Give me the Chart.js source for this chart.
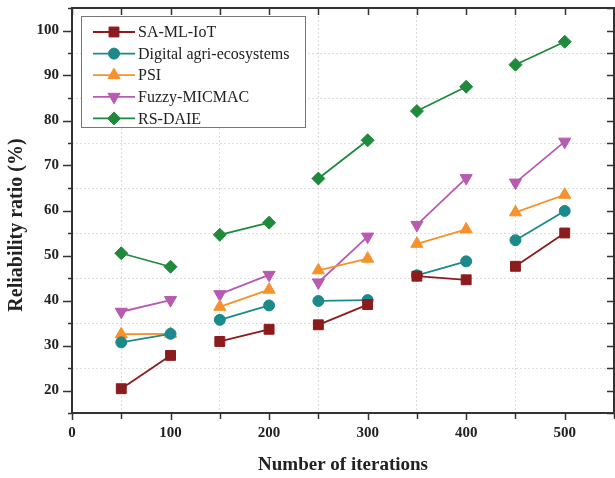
<!DOCTYPE html>
<html>
<head>
<meta charset="utf-8">
<script src="https://cdn.jsdelivr.net/npm/chart.js@4.4.0/dist/chart.umd.min.js"></script>
<style>
html, body { margin: 0; padding: 0; background: #fff; overflow: hidden; width: 615px; height: 478px; }
</style>
</head>
<body>
<canvas id="myChart" width="622" height="478"></canvas>
<script>
var iterations = [50, 100, 150, 200, 250, 300, 350, 400, 450, 500];
var saMlIot   = [20.4, 27.8, 30.9, 33.6, 34.6, 39.1, 45.4, 44.6, 47.6, 55.0];
var digitalAgri = [30.7, 32.6, 35.7, 38.9, 39.9, 40.1, 45.6, 48.7, 53.4, 59.9];
var psi       = [32.5, 32.6, 38.6, 42.4, 46.7, 49.3, 52.6, 55.8, 59.6, 63.5];
var fuzzy     = [37.5, 40.1, 41.4, 45.7, 44.0, 54.2, 56.8, 67.2, 66.2, 75.3];
var rsDaie    = [50.5, 47.5, 54.6, 57.3, 67.1, 75.6, 82.1, 87.5, 92.4, 97.5];
var xTicks = [0, 100, 200, 300, 400, 500];
var yTicks = [20, 30, 40, 50, 60, 70, 80, 90, 100];

var FONT = '"Liberation Serif", "Times New Roman", serif';
Chart.defaults.font.family = FONT;
Chart.defaults.color = '#222';

function makeSet(label, values, color, style, radius, rotation) {
    return {
        label: label,
        data: iterations.map(function (x, i) { return { x: x, y: values[i] }; }),
        borderColor: color,
        backgroundColor: color,
        pointBackgroundColor: color,
        pointBorderColor: color,
        pointBorderWidth: 1,
        borderWidth: 1.8,
        pointStyle: style,
        pointRadius: radius,
        pointRotation: rotation,
        segment: {
            // lines only join each pair of iterations
            borderColor: function (c) { return c.p0DataIndex % 2 === 1 ? 'rgba(0,0,0,0)' : color; }
        }
    };
}

var datasets = [
    makeSet('SA-ML-IoT', saMlIot, '#8b1c1e', 'rect', 7, 0),
    makeSet('Digital agri-ecosystems', digitalAgri, '#1c8a8a', 'circle', 5.5, 0),
    makeSet('PSI', psi, '#f7912b', 'triangle', 7, 0),
    makeSet('Fuzzy-MICMAC', fuzzy, '#b65ab2', 'triangle', 7, 180),
    makeSet('RS-DAIE', rsDaie, '#1f8a3b', 'rectRot', 6.5, 0)
];

var frame = {
    id: 'frame',
    afterDraw: function (chart) {
        var ctx = chart.ctx, a = chart.chartArea;
        var xs = chart.scales.x, ys = chart.scales.y;
        ctx.save();
        ctx.strokeStyle = '#333';
        ctx.lineWidth = 1.5;
        ctx.beginPath();
        var v, p;
        for (v = 0; v <= 550; v += 50) {
            p = Math.round(xs.getPixelForValue(v)) + 0.5;
            ctx.moveTo(p, a.bottom); ctx.lineTo(p, a.bottom + (v % 100 === 0 ? 7 : 6));
            ctx.moveTo(p, a.top); ctx.lineTo(p, a.top + 7);
        }
        for (v = 15; v <= 105; v += 5) {
            p = Math.round(ys.getPixelForValue(v)) + 0.5;
            ctx.moveTo(a.left, p); ctx.lineTo(a.left - (v % 10 === 0 ? 9 : 4), p);
            ctx.moveTo(a.right, p); ctx.lineTo(a.right - 7, p);
        }
        ctx.stroke();
        ctx.lineWidth = 2;
        ctx.strokeRect(a.left, a.top, a.right - a.left, a.bottom - a.top);

        // y axis title
        ctx.save();
        ctx.translate(17, 225);
        ctx.rotate(-Math.PI / 2);
        ctx.font = 'bold 20px ' + FONT;
        ctx.fillStyle = '#222';
        ctx.textAlign = 'center';
        ctx.textBaseline = 'middle';
        ctx.fillText('Reliability ratio (%)', 0, 0);
        ctx.restore();

        // legend
        ctx.fillStyle = '#fff';
        ctx.fillRect(81, 16, 224, 111);
        ctx.strokeStyle = '#777';
        ctx.lineWidth = 1;
        ctx.strokeRect(81.5, 16.5, 224, 111);
        ctx.font = '16px ' + FONT;
        ctx.textBaseline = 'middle';
        chart.data.datasets.forEach(function (ds, i) {
            var y = 32 + i * 21.6;
            ctx.strokeStyle = ds.borderColor;
            ctx.lineWidth = 1.8;
            ctx.beginPath();
            ctx.moveTo(93, y); ctx.lineTo(135, y);
            ctx.stroke();
            ctx.fillStyle = ds.backgroundColor;
            ctx.strokeStyle = ds.borderColor;
            ctx.lineWidth = 1;
            Chart.helpers.drawPoint(ctx, { pointStyle: ds.pointStyle, radius: ds.pointRadius, rotation: ds.pointRotation, borderWidth: 1 }, 114, y);
            ctx.fillStyle = '#222';
            ctx.fillText(ds.label, 138, y + 1);
        });
        ctx.restore();
    }
};

function gridColor(ctx) {
    return ctx.tick && ctx.tick.value % 10 !== 0 ? '#dcdcdc' : 'rgba(0,0,0,0)';
}

new Chart(document.getElementById('myChart'), {
    type: 'line',
    data: { datasets: datasets },
    options: {
        responsive: false,
        animation: false,
        layout: { padding: { top: 8, right: 1, left: 0, bottom: 0 } },
        plugins: { legend: { display: false }, tooltip: { enabled: false } },
        scales: {
            x: {
                type: 'linear',
                min: 0, max: 550,
                afterFit: function (s) { s.height = 65; s.paddingLeft = 0; s.paddingRight = 0; },
                grid: {
                    drawTicks: false,
                    lineWidth: 1,
                    color: function (c) { return c.tick && c.tick.value % 100 === 50 ? '#dcdcdc' : 'rgba(0,0,0,0)'; }
                },
                border: { display: false, dash: [2, 2] },
                ticks: {
                    stepSize: 50, autoSkip: false, maxRotation: 0, padding: 11,
                    font: { size: 15, weight: 'bold' },
                    callback: function (v) { return xTicks.indexOf(v) >= 0 ? v : ''; }
                },
                title: {
                    display: true, text: 'Number of iterations',
                    font: { size: 19, weight: 'bold' },
                    padding: { top: 0, bottom: 2 }
                }
            },
            y: {
                min: 15, max: 105,
                afterFit: function (s) { s.width = 72; s.paddingTop = 0; s.paddingBottom = 0; },
                grid: { drawTicks: false, lineWidth: 1, color: gridColor },
                border: { display: false, dash: [2, 2] },
                ticks: {
                    stepSize: 5, autoSkip: false, padding: 13,
                    font: { size: 15, weight: 'bold' },
                    callback: function (v) { return yTicks.indexOf(v) >= 0 ? v : ''; }
                }
            }
        }
    },
    plugins: [frame]
});
</script>
</body>
</html>
